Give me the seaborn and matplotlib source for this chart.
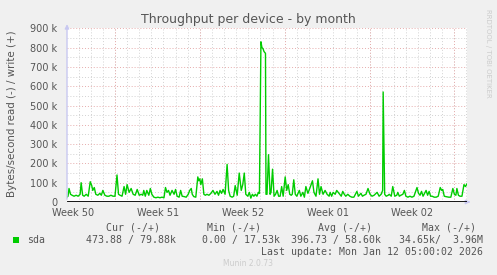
import matplotlib
matplotlib.use("Agg")
import matplotlib.pyplot as plt
from matplotlib.patches import Rectangle
import numpy as np
import pandas as pd
import seaborn as sns

# ---- data (hours since left edge of graph, write throughput in k bytes/s) ----
hours = [0, 2, 4, 7, 10, 14, 18, 22, 26, 28, 31, 34, 38, 42, 46, 49, 51, 54, 57, 61,
         65, 68, 71, 75, 79, 83, 87, 91, 95, 99, 102, 105, 109, 113, 116, 119, 123, 127, 131, 135,
         139, 143, 147, 150, 152, 155, 158, 162, 165, 168, 172, 176, 180, 184, 188, 192, 195, 198, 201, 204,
         208, 212, 215, 218, 222, 225, 228, 232, 236, 240, 243, 246, 248, 251, 255, 259, 261, 263, 265, 268,
         271, 274, 277, 281, 285, 289, 293, 297, 300, 303, 306, 309, 313, 317, 320, 323, 327, 330, 333, 337,
         341, 345, 348, 351, 354, 358, 361, 364, 367, 370, 373, 376, 379, 381, 384, 386, 388, 390, 393, 394,
         396, 399, 402, 404, 407, 410, 413, 416, 419, 422, 425, 428, 432, 435, 438, 441, 444, 446, 449, 452,
         455, 460, 463, 467, 470, 473, 477, 482, 486, 489, 493, 497, 500, 503, 507, 511, 515, 519, 521, 524,
         527, 531, 534, 537, 540, 543, 546, 549, 552, 556, 560, 564, 568, 574, 577, 582, 585, 588, 592, 596,
         600, 604, 608, 614, 618, 622, 625, 626, 629, 632, 636, 638, 642, 645, 649, 653, 655, 658, 661, 665,
         668, 671, 675, 679, 683, 687, 693, 696, 699, 702, 705, 711, 714, 717, 720, 723, 727, 731, 735, 739,
         742, 744, 747, 750, 756, 760, 764, 767, 770, 772, 775, 778, 782, 786, 789, 792]
write_k = [25, 30, 70, 40, 35, 30, 35, 30, 40, 100, 35, 30, 40, 30, 105, 85, 60, 75, 40, 35,
           45, 35, 60, 35, 30, 30, 35, 30, 30, 140, 40, 35, 30, 80, 40, 90, 50, 70, 40, 35,
           65, 35, 40, 35, 60, 30, 60, 35, 70, 40, 25, 22, 25, 22, 25, 22, 75, 50, 60, 35,
           60, 40, 65, 30, 25, 60, 30, 28, 25, 40, 60, 70, 40, 28, 25, 130, 110, 120, 90, 120,
           40, 35, 40, 35, 45, 60, 40, 55, 35, 60, 45, 65, 40, 195, 60, 30, 25, 30, 85, 35,
           150, 60, 90, 150, 40, 30, 50, 20, 40, 30, 40, 30, 50, 45, 830, 800, 795, 780, 770, 40,
           40, 245, 40, 50, 170, 30, 40, 60, 30, 30, 80, 30, 130, 60, 90, 40, 35, 40, 115, 40,
           30, 60, 30, 50, 25, 80, 45, 80, 110, 50, 30, 120, 40, 80, 40, 60, 40, 30, 50, 30,
           50, 40, 60, 50, 40, 30, 55, 40, 30, 40, 30, 25, 25, 55, 30, 45, 30, 35, 40, 70,
           40, 30, 35, 50, 30, 40, 60, 570, 40, 30, 35, 40, 30, 80, 30, 35, 50, 30, 35, 40,
           60, 30, 25, 30, 25, 30, 75, 45, 35, 55, 30, 60, 35, 55, 30, 30, 25, 25, 30, 75,
           60, 65, 30, 28, 25, 25, 70, 40, 35, 70, 35, 30, 30, 90, 80, 95]

week_labels = ["Week 50", "Week 51", "Week 52", "Week 01", "Week 02"]
week_label_hours = [12, 180, 348, 516, 684]
week_line_hours = [95, 263, 431, 599, 767]
y_ticks_k = [0, 100, 200, 300, 400, 500, 600, 700, 800, 900]

legend_cur = "473.88 / 79.88k"
legend_min = "0.00 / 17.53k"
legend_avg = "396.73 / 58.60k"
legend_max = "34.65k/  3.96M"

# ---- figure ----
sns.set_theme(style="white")
plt.rcParams['font.family'] = ['DejaVu Sans']

W, H = 497, 275
fig = plt.figure(figsize=(W / 100, H / 100), dpi=100, facecolor="#F0F0F0")
ax = fig.add_axes([67 / W, 1 - 202 / H, 400 / W, (202 - 28.3) / H])
ax.set_facecolor("white")

TOTAL_H = 792
ax.set_xlim(0, TOTAL_H)
ax.set_ylim(0, 900000)

# grid: minor (daily / 50k) and major (weekly / 100k)
grid_minor = dict(color="#d2d2d2", lw=0.7, ls=(0, (1, 2)), zorder=1)
grid_major = dict(color="#e6acac", lw=0.7, ls=(0, (1, 2)), zorder=1)
for h in np.arange(week_line_hours[0] % 24, TOTAL_H, 24):
    ax.axvline(h, **grid_minor)
for v in np.arange(50000, 900001, 100000):
    ax.axhline(v, **grid_minor)
for h in week_line_hours:
    ax.axvline(h, **grid_major)
for v in y_ticks_k[1:]:
    ax.axhline(v * 1000, **grid_major)

df = pd.DataFrame({"hour": hours, "write": np.array(write_k) * 1000.0})
sns.lineplot(data=df, x="hour", y="write", ax=ax, color="#00CC00", lw=1.0, zorder=3)

# zero line
ax.axhline(0, color="black", lw=2, zorder=4)

for s in ax.spines.values():
    s.set_visible(False)

ax.set_xlabel("")
ax.set_ylabel("")
ax.set_xticks(week_label_hours)
ax.set_xticklabels(week_labels)
ax.set_yticks([v * 1000 for v in y_ticks_k])
ax.set_yticklabels(["0" if v == 0 else f"{v} k" for v in y_ticks_k])
ax.tick_params(axis="both", length=0, labelsize=7, labelcolor="#555555")
ax.tick_params(axis="x", pad=4)
ax.tick_params(axis="y", pad=7)

# axis arrows
ax.annotate("", xy=(0, 1.04), xytext=(0, 0), xycoords="axes fraction",
            arrowprops=dict(arrowstyle="-|>", color="#c8c8f0", lw=1, mutation_scale=6),
            annotation_clip=False)
ax.annotate("", xy=(1.015, 0), xytext=(0.995, 0), xycoords="axes fraction",
            arrowprops=dict(arrowstyle="-|>", color="#c8c8f0", lw=1, mutation_scale=6),
            annotation_clip=False)


def px(x, y):
    return x / W, 1 - y / H


fig.text(*px(248, 19), "Throughput per device - by month", ha="center", va="center",
         fontsize=9, color="#555555")
fig.text(*px(12, 114), "Bytes/second read (-) / write (+)", ha="center", va="center",
         rotation=90, fontsize=7.4, color="#555555")
fig.text(*px(488, 53), "RRDTOOL / TOBI OETIKER", ha="center", va="center",
         rotation=270, fontsize=5, color="#cccccc")

mono = dict(family="DejaVu Sans Mono", fontsize=7.1, color="#555555", va="center")
fig.text(*px(133, 228), "Cur (-/+)", ha="center", **mono)
fig.text(*px(234, 228), "Min (-/+)", ha="center", **mono)
fig.text(*px(345, 228), "Avg (-/+)", ha="center", **mono)
fig.text(*px(449, 228), "Max (-/+)", ha="center", **mono)
fig.text(*px(27, 240), "sda", ha="left", **mono)
fig.text(*px(176, 240), legend_cur, ha="right", **mono)
fig.text(*px(202, 240), legend_min, ha="left", **mono)
fig.text(*px(381, 240), legend_avg, ha="right", **mono)
fig.text(*px(483, 240), legend_max, ha="right", **mono)
fig.text(*px(483, 252), "Last update: Mon Jan 12 05:00:02 2026", ha="right", **mono)
fig.text(*px(248, 264), "Munin 2.0.73", ha="center", va="center", fontsize=5.5, color="#cccccc")

fig.patches.append(Rectangle(px(13, 243), 6 / W, 6 / H, transform=fig.transFigure,
                             facecolor="#00CC00", edgecolor="none"))

fig.savefig("out.png", dpi=100, facecolor=fig.get_facecolor())
